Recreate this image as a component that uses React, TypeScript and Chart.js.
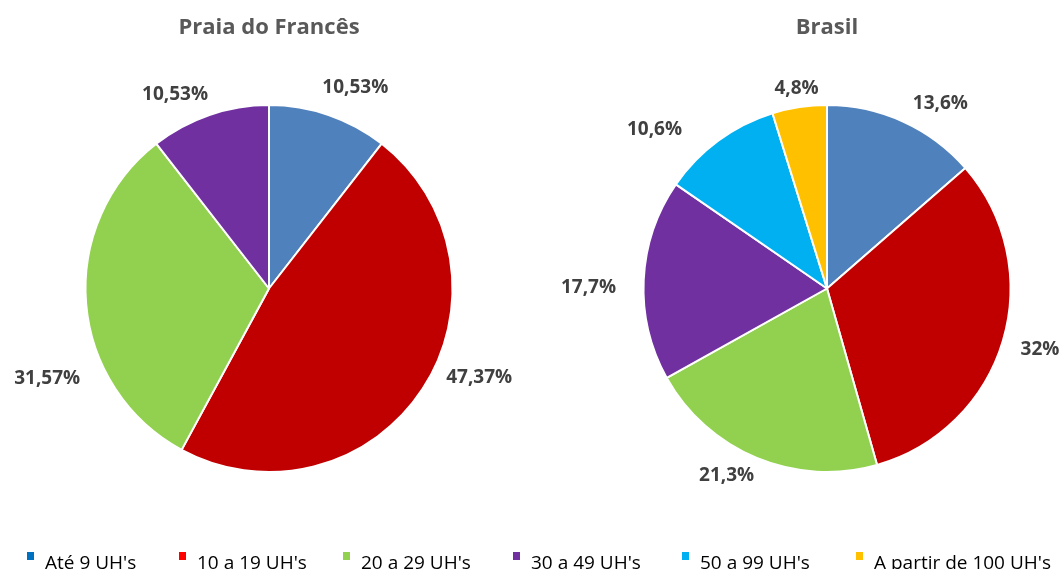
import React, { useEffect, useRef } from 'react';
import { Chart, registerables } from 'chart.js';

Chart.register(...registerables);

const categories = ["Até 9 UH's", "10 a 19 UH's", "20 a 29 UH's", "30 a 49 UH's", "50 a 99 UH's", "A partir de 100 UH's"];
const praiaTitle = 'Praia do Francês';
const brasilTitle = 'Brasil';
const praiaValues = [10.53, 47.37, 31.57, 10.53];
const brasilValues = [13.6, 32, 21.3, 17.7, 10.6, 4.8];
const sliceColors = ['#4F81BD', '#C00000', '#92D050', '#7030A0', '#00B0F0', '#FFC000'];
const legendColors = ['#0070C0', '#FF0000', '#92D050', '#7030A0', '#00B0F0', '#FFC000'];

const fmt = (v: number) => String(v).replace('.', ',') + '%';

const outsideLabels = {
  id: 'outsideLabels',
  afterDatasetsDraw(chart: any, _args: any, opts: any) {
    const { ctx } = chart;
    const meta = chart.getDatasetMeta(0);
    const values = chart.data.datasets[0].data as number[];
    ctx.save();
    ctx.font = 'bold 19px "Open Sans"';
    ctx.fillStyle = '#404040';
    ctx.textAlign = 'center';
    ctx.textBaseline = 'middle';
    meta.data.forEach((arc: any, i: number) => {
      const p = arc.getProps(['x', 'y', 'startAngle', 'endAngle', 'outerRadius'], true);
      const mid = (p.startAngle + p.endAngle) / 2 + ((opts.shift?.[i] ?? 0) * Math.PI) / 180;
      const d = p.outerRadius + (opts.extra?.[i] ?? 35);
      ctx.fillText(fmt(values[i]), p.x + d * Math.cos(mid), p.y + d * Math.sin(mid));
    });
    ctx.restore();
  },
};

function PieCanvas({ title, labels, values, padL, padR, shift, extra }: any) {
  const ref = useRef<HTMLCanvasElement>(null);
  useEffect(() => {
    if (!ref.current) return;
    const chart = new Chart(ref.current, {
      type: 'pie',
      data: {
        labels,
        datasets: [
          {
            data: values,
            backgroundColor: sliceColors.slice(0, values.length),
            borderColor: '#FFFFFF',
            borderWidth: 2,
          },
        ],
      },
      options: {
        animation: false,
        responsive: false,
        layout: { padding: { left: padL, right: padR, top: 0, bottom: 96 } },
        plugins: {
          legend: { display: false },
          tooltip: { enabled: false },
          title: {
            display: true,
            text: title,
            color: '#595959',
            font: { family: 'Open Sans', size: 22, weight: 'bold' },
            padding: { top: 15, bottom: 62.6 },
          },
          outsideLabels: { shift, extra },
        } as any,
      },
      plugins: [outsideLabels],
    });
    return () => chart.destroy();
  }, []);
  return <canvas ref={ref} width={530} height={569} style={{ width: 530, height: 569, display: 'block' }} />;
}

const legendLeft = [27, 179, 343, 513, 682, 856];

export default function App() {
  useEffect(() => {
    document.body.style.margin = '0';
  }, []);
  return (
    <div style={{ position: 'fixed', left: 0, top: 0, width: 1060, height: 569, background: '#fff', overflow: 'hidden' }}>
      <div style={{ position: 'absolute', left: 0, top: 0 }}>
        <PieCanvas
          title={praiaTitle}
          labels={categories.slice(0, praiaValues.length)}
          values={praiaValues}
          padL={20}
          padR={12}
          shift={[4.3, -10.1, -17.4, -6.9]}
          extra={[35, 45, 56, 32]}
        />
      </div>
      <div style={{ position: 'absolute', left: 530, top: 0 }}>
        <PieCanvas
          title={brasilTitle}
          labels={categories}
          values={brasilValues}
          padL={70}
          padR={6}
          shift={[7.1, -0.6, 5.7, -2.5, -11, 0]}
          extra={[33, 38, 29, 55, 51, 19]}
        />
      </div>
      {categories.map((c, i) => (
        <React.Fragment key={c}>
          <span style={{ position: 'absolute', left: legendLeft[i], top: 552, width: 7, height: 8, background: legendColors[i] }} />
          <span style={{ position: 'absolute', left: legendLeft[i] + 18, top: 550, fontFamily: '"Open Sans"', fontSize: 19, color: '#000', lineHeight: '24px', whiteSpace: 'nowrap' }}>{c}</span>
        </React.Fragment>
      ))}
    </div>
  );
}
